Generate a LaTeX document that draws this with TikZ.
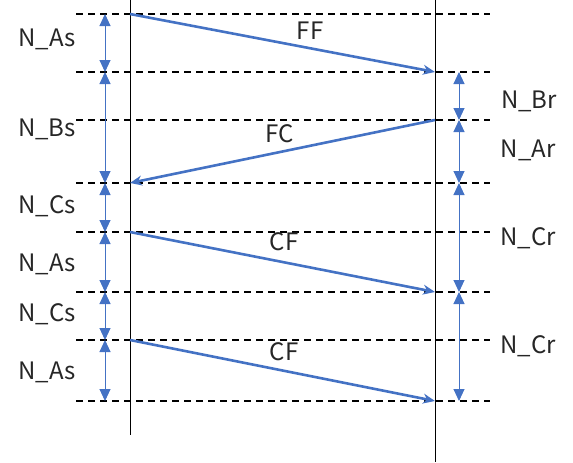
\documentclass[tikz,border=0pt]{standalone}
\usepackage{fontspec}
\setmainfont{Noto Sans CJK JP}
\usepackage{tikz}
\usetikzlibrary{arrows.meta}
\definecolor{msgblue}{RGB}{68,114,196}
\tikzset{lifeline/.style = {draw, line width = 1pt}}
\tikzset{level/.style = {draw, dashed, line width = 1.4pt, dash pattern = on 7pt off 5pt}}
\tikzset{msg/.style = {draw = msgblue, line width = 2.6pt, -{Stealth[length = 12pt, width = 10pt]}}}
\tikzset{span/.style = {draw = msgblue, line width = 1pt, {Triangle[length = 12pt, width = 11pt]}-{Triangle[length = 12pt, width = 11pt]}}}
\tikzset{lbl/.style = {font = \fontsize{24pt}{26pt}\selectfont, text = black!85, inner sep = 0pt}}

\begin{document}
\begin{tikzpicture}[x = 1pt, y = -1pt]
	\useasboundingbox (0, 0) rectangle (573, 463);

	% lifelines
	\coordinate (s0) at (130, 0);
	\coordinate (s1) at (130, 435);
	\coordinate (r0) at (435, 0);
	\coordinate (r1) at (435, 462);
	\draw[lifeline] (s0) -- (s1);
	\draw[lifeline] (r0) -- (r1);

	% dashed levels
	\coordinate (la) at (76, 14);   \coordinate (ra) at (490, 14);
	\coordinate (lb) at (76, 72);   \coordinate (rb) at (490, 72);
	\coordinate (lc) at (76, 120);  \coordinate (rc) at (490, 120);
	\coordinate (ld) at (76, 183);  \coordinate (rd) at (490, 183);
	\coordinate (le) at (76, 232);  \coordinate (re) at (490, 232);
	\coordinate (lf) at (76, 292);  \coordinate (rf) at (490, 292);
	\coordinate (lg) at (76, 340);  \coordinate (rg) at (490, 340);
	\coordinate (lh) at (76, 401);  \coordinate (rh) at (490, 401);
	\draw[level] (la) -- (ra);
	\draw[level] (lb) -- (rb);
	\draw[level] (lc) -- (rc);
	\draw[level] (ld) -- (rd);
	\draw[level] (le) -- (re);
	\draw[level] (lf) -- (rf);
	\draw[level] (lg) -- (rg);
	\draw[level] (lh) -- (rh);

	% messages
	\coordinate (sa) at (130, 14);
	\coordinate (rb2) at (435, 72);
	\coordinate (rc2) at (435, 120);
	\coordinate (sd) at (130, 183);
	\coordinate (se) at (130, 232);
	\coordinate (rf2) at (435, 292);
	\coordinate (sg) at (130, 340);
	\coordinate (rh2) at (435, 401);
	\draw[msg] (sa) -- (rb2);
	\draw[msg] (rc2) -- (sd);
	\draw[msg] (se) -- (rf2);
	\draw[msg] (sg) -- (rh2);
	\node[lbl] (ff) at (310, 31) {FF};
	\node[lbl] (fc) at (280, 134) {FC};
	\node[lbl] (cf1) at (284, 242) {CF};
	\node[lbl] (cf2) at (284, 352) {CF};

	% sender spans
	\coordinate (p1) at (105, 14);
	\coordinate (p2) at (105, 72);
	\coordinate (p3) at (105, 183);
	\coordinate (p4) at (105, 232);
	\coordinate (p5) at (105, 292);
	\coordinate (p6) at (105, 340);
	\coordinate (p7) at (105, 401);
	\draw[span] (p1) -- (p2);
	\draw[span] (p2) -- (p3);
	\draw[span] (p3) -- (p4);
	\draw[span] (p4) -- (p5);
	\draw[span] (p5) -- (p6);
	\draw[span] (p6) -- (p7);
	\node[lbl] (as1) at (47, 39) {N\_As};
	\node[lbl] (bs) at (47, 129) {N\_Bs};
	\node[lbl] (cs1) at (47, 206) {N\_Cs};
	\node[lbl] (as2) at (47, 264) {N\_As};
	\node[lbl] (cs2) at (47, 314) {N\_Cs};
	\node[lbl] (as3) at (47, 372) {N\_As};

	% receiver spans
	\coordinate (q1) at (459, 72);
	\coordinate (q2) at (459, 120);
	\coordinate (q3) at (459, 183);
	\coordinate (q4) at (459, 292);
	\coordinate (q5) at (459, 401);
	\draw[span] (q1) -- (q2);
	\draw[span] (q2) -- (q3);
	\draw[span] (q3) -- (q4);
	\draw[span] (q4) -- (q5);
	\node[lbl] (br) at (529, 101) {N\_Br};
	\node[lbl] (ar) at (528, 150) {N\_Ar};
	\node[lbl] (cr1) at (528, 238) {N\_Cr};
	\node[lbl] (cr2) at (528, 346) {N\_Cr};
\end{tikzpicture}
\end{document}
